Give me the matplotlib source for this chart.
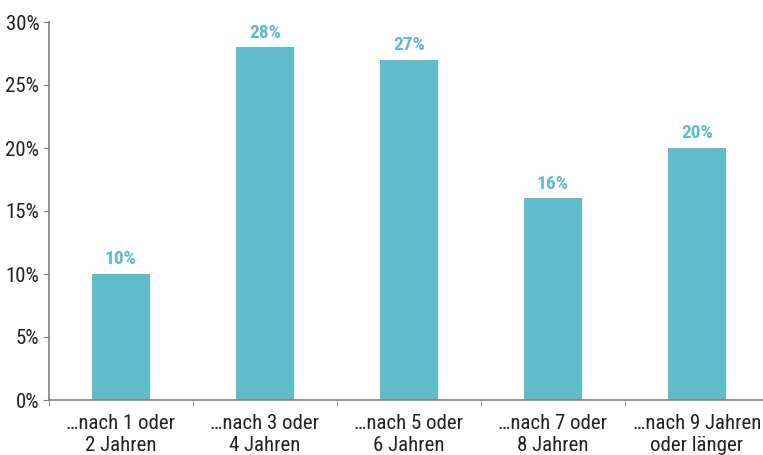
import matplotlib
matplotlib.use("Agg")
import matplotlib.pyplot as plt

categories = ["…nach 1 oder\n2 Jahren", "…nach 3 oder\n4 Jahren", "…nach 5 oder\n6 Jahren",
              "…nach 7 oder\n8 Jahren", "…nach 9 Jahren\noder länger"]
values = [10, 28, 27, 16, 20]
yticks = [0, 5, 10, 15, 20, 25, 30]

plt.rcParams['font.family'] = ['Roboto Condensed', 'DejaVu Sans']

bar_color = "#60bbca"
text_color = "#222222"
fig = plt.figure(figsize=(7.63, 4.55), dpi=100)
ax = fig.add_axes([49/763, 55/455, 720/763, 378/455])
x = list(range(len(values)))
ax.bar(x, values, width=0.4, color=bar_color, zorder=2)
for xi, v in zip(x, values):
    ax.text(xi, v + 0.45, f"{v}%", ha="center", va="bottom", color=bar_color,
            fontsize=14, fontweight="bold")
ax.set_xlim(-0.5, 4.5)
ax.set_ylim(0, 30)
ax.set_yticks(yticks)
ax.set_yticklabels([f"{t}%" for t in yticks], fontsize=15, color=text_color)
ax.set_xticks(x)
ax.set_xticklabels(categories, fontsize=15, color=text_color, linespacing=1.22)
ax.tick_params(axis="x", length=0, pad=10)
ax.set_xticks([i - 0.5 for i in range(len(values) + 1)], minor=True)
ax.tick_params(axis="x", which="minor", length=4, color="#808080")
ax.tick_params(axis="y", length=4, color="#808080", pad=3)
for s in ["top", "right"]:
    ax.spines[s].set_visible(False)
for s in ["left", "bottom"]:
    ax.spines[s].set_color("#808080")
    ax.spines[s].set_linewidth(1.2)
fig.savefig("out.png", dpi=100)
